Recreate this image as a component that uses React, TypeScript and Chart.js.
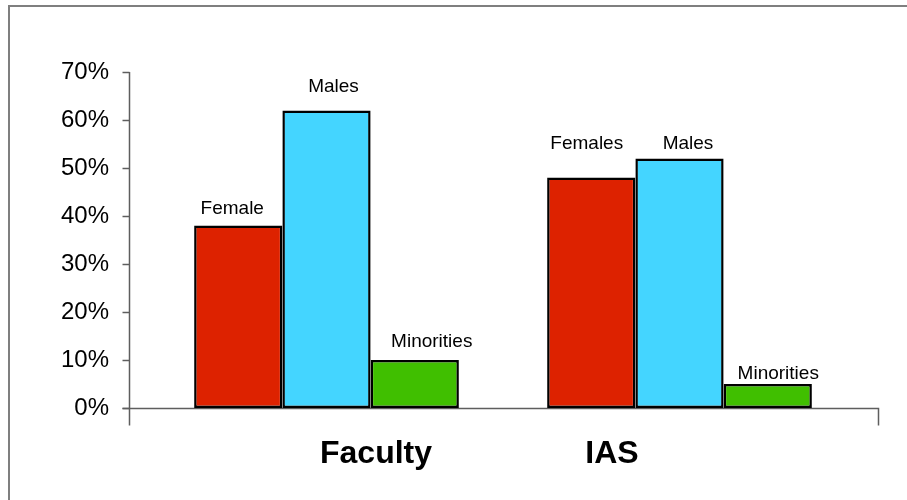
import React, { useEffect, useRef } from "react";
import { Chart, registerables } from "chart.js";

Chart.register(...registerables);

const categories = ["Faculty", "IAS"];
const femaleValues = [38, 48];
const maleValues = [62, 52];
const minorityValues = [10, 5];
const femaleLabels = ["Female", "Females"];
const maleLabels = ["Males", "Males"];
const minorityLabels = ["Minorities", "Minorities"];
const yTicks = [0, 10, 20, 30, 40, 50, 60, 70];

// label placement tweaks [dataset][category]: dx from bar centre, gap above bar top
const LABEL_DX = [
  [-6, -4.5],
  [7, 8.5],
  [17, 10.5],
];
const LABEL_GAP = [
  [12, 29],
  [18, 9],
  [13, 5],
];
const CAT_DX = [49.5, -67.5];

const FONT = "'Liberation Sans', Arial, Helvetica, sans-serif";

const decorPlugin = {
  id: "decor",
  beforeDatasetsDraw(chart: any) {
    const ctx = chart.ctx;
    const y = chart.scales.y;
    const axisX = 129.5;
    const baseY = Math.round(y.getPixelForValue(0)) + 0.5;
    ctx.save();
    // frame
    ctx.strokeStyle = "#7f7f7f";
    ctx.lineWidth = 2;
    ctx.strokeRect(9, 6, 960, 560);
    // axes
    ctx.strokeStyle = "#5e5e5e";
    ctx.lineWidth = 1.5;
    ctx.beginPath();
    ctx.moveTo(axisX, y.getPixelForValue(70));
    ctx.lineTo(axisX, baseY + 17);
    ctx.stroke();
    yTicks.forEach((t) => {
      const py = Math.round(y.getPixelForValue(t)) + 0.5;
      ctx.beginPath();
      ctx.moveTo(axisX - 7, py);
      ctx.lineTo(axisX, py);
      ctx.stroke();
    });
    ctx.beginPath();
    ctx.moveTo(axisX - 7, baseY);
    ctx.lineTo(878.5, baseY);
    ctx.lineTo(878.5, baseY + 17);
    ctx.stroke();
    ctx.restore();
  },
  afterDatasetsDraw(chart: any) {
    const ctx = chart.ctx;
    const x = chart.scales.x;
    const labelSets = [femaleLabels, maleLabels, minorityLabels];
    ctx.save();
    ctx.fillStyle = "#000";
    ctx.textAlign = "center";
    ctx.textBaseline = "alphabetic";
    ctx.font = `19px ${FONT}`;
    chart.data.datasets.forEach((ds: any, di: number) => {
      const meta = chart.getDatasetMeta(di);
      meta.data.forEach((bar: any, ci: number) => {
        ctx.fillText(
          labelSets[di][ci],
          bar.x + LABEL_DX[di][ci],
          bar.y - LABEL_GAP[di][ci]
        );
      });
    });
    ctx.font = `bold 32px ${FONT}`;
    categories.forEach((c, i) => {
      ctx.fillText(c, x.getPixelForValue(i) + CAT_DX[i], 463);
    });
    ctx.restore();
  },
};

export default function App() {
  const ref = useRef<HTMLCanvasElement>(null);
  useEffect(() => {
    if (!ref.current) return;
    const chart = new Chart(ref.current, {
      type: "bar",
      data: {
        labels: categories,
        datasets: [
          {
            label: "Females",
            data: femaleValues,
            backgroundColor: "#DD2200",
          },
          {
            label: "Males",
            data: maleValues,
            backgroundColor: "#44D5FF",
          },
          {
            label: "Minorities",
            data: minorityValues,
            backgroundColor: "#40BF00",
          },
        ].map((d) => ({
          ...d,
          borderColor: "#000",
          borderWidth: 2.5,
          borderSkipped: false,
          categoryPercentage: 0.75,
          barPercentage: 1,
        })),
      },
      options: {
        responsive: false,
        animation: false,
        layout: { padding: { top: 72, bottom: 92, left: 0, right: 51 } },
        plugins: {
          legend: { display: false },
          tooltip: { enabled: false },
          title: { display: false },
        },
        scales: {
          x: { display: false },
          y: {
            min: 0,
            max: 70,
            afterFit: (s: any) => {
              s.width = 150;
            },
            border: { display: false },
            grid: { display: false, drawTicks: false },
            ticks: {
              stepSize: 10,
              padding: 41,
              color: "#000",
              font: { family: FONT, size: 24 },
              callback: (v: any) => `${v}%`,
            },
          },
        },
      },
      plugins: [decorPlugin],
    });
    return () => chart.destroy();
  }, []);
  return (
    <div style={{ position: "fixed", left: 0, top: 0, width: 907, height: 500, background: "#fff" }}>
      <canvas ref={ref} width={907} height={500} style={{ display: "block" }} />
    </div>
  );
}
